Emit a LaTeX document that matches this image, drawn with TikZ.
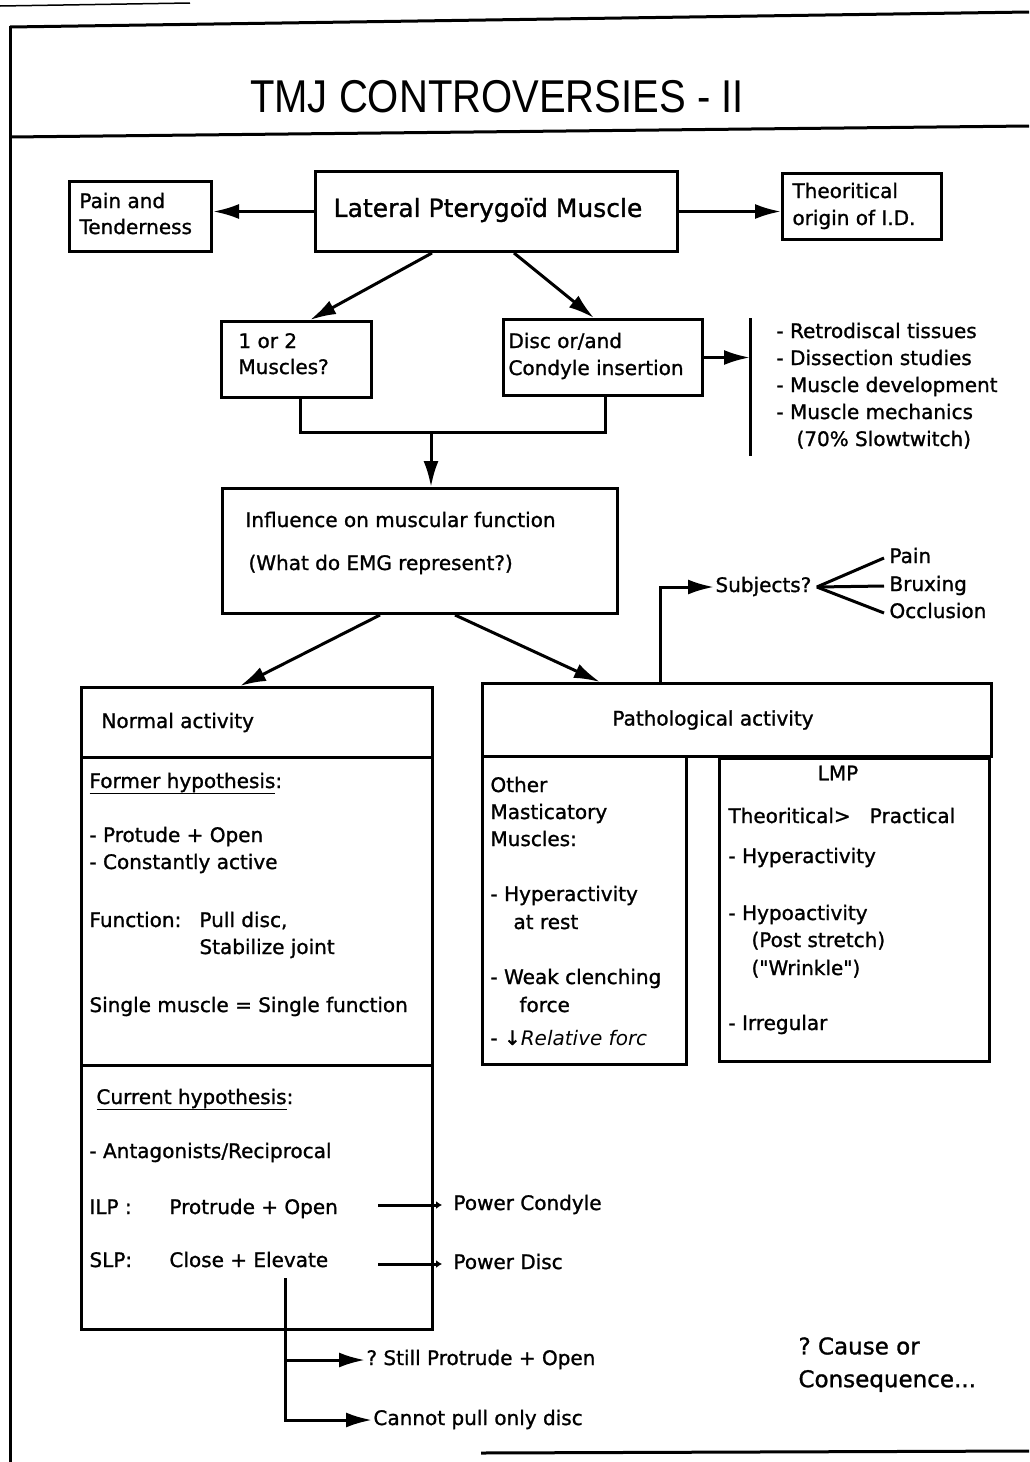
\documentclass[tikz,border=0pt]{standalone}
\usepackage{fontspec}
\setmainfont{DejaVu Sans}[BoldFont={DejaVu Sans},BoldFeatures={FakeBold=1.2}]
\newfontfamily\titlefont{Liberation Sans}
\usetikzlibrary{arrows.meta,calc}
\begin{document}
\frenchspacing
\begin{tikzpicture}[x=1pt,y=-1pt,line width=3pt,
  box/.style={draw,line width=3pt,inner sep=0pt,anchor=north west},
  txt/.style={anchor=west,inner sep=0pt,text height=14pt,text depth=4pt,font=\fontsize{20}{24}\selectfont\bfseries},
  ctxt/.style={inner sep=0pt,font=\fontsize{20}{24}\selectfont\bfseries},
  btxt/.style={anchor=west,inner sep=0pt,font=\fontsize{23}{27}\selectfont\bfseries},
  arr/.style={-{Latex[length=26pt,width=15pt]}},
  tick/.style={-{Latex[length=6pt,width=8pt]}},
  rule/.style={line width=3pt}]
\useasboundingbox (0,0) rectangle (1029,1462);
% frame
\draw[rule] (10,27) -- (1029,12);
\draw[rule] (10,137) -- (1029,126);
\draw[rule] (10,26) -- (10,1462);
\draw[line width=1.5pt] (0,6) -- (190,3);
\draw[rule] (481,1453) -- (1029,1451);
\node[inner sep=0pt,font=\titlefont\fontsize{46}{50}\selectfont] (title) at (497,97) {\scalebox{0.87}[1]{TMJ CONTROVERSIES - II}};
% top boxes
\node[box,minimum width=142pt,minimum height=70pt] (pain) at (68,180) {};
\node[txt] (painA) at (78,203) {Pain and};
\node[txt] (painB) at (78,229) {Tenderness};
\node[box,minimum width=362pt,minimum height=80pt] (lat) at (314,170) {};
\node[inner sep=0pt,font=\fontsize{25}{30}\selectfont\bfseries] (latT) at (488,210) {Lateral Pterygoïd Muscle};
\node[box,minimum width=159pt,minimum height=66pt] (theo) at (781,172) {};
\node[txt] (theoA) at (791,193) {Theoritical};
\node[txt] (theoB) at (791,220) {origin of I.D.};
\draw[arr] (lat.west) -- (lat.west -| pain.east);
\draw[arr] (lat.east) -- (lat.east -| theo.west);
% second row
\node[box,minimum width=150pt,minimum height=76pt] (one) at (220,320) {};
\node[txt] (oneA) at (237,343) {1 or 2};
\node[txt] (oneB) at (237,369) {Muscles?};
\node[box,minimum width=199pt,minimum height=76pt] (disc) at (502,318) {};
\node[txt] (discA) at (507,343) {Disc or/and};
\node[txt] (discB) at (507,370) {Condyle insertion};
\draw[arr] ($(lat.south west)+(118,0)$) -- ($(one.north west)+(90,0)$);
\draw[arr] ($(lat.south west)+(200,0)$) -- ($(disc.north west)+(92,0)$);
% bracket list
\coordinate (br) at (750,356);
\draw[rule] (750,318) -- (750,456);
\draw[arr] (disc.east) -- (disc.east -| br);
\node[txt] (l1) at (775,333) {- Retrodiscal tissues};
\node[txt] (l2) at (775,360) {- Dissection studies};
\node[txt] (l3) at (775,387) {- Muscle development};
\node[txt] (l4) at (775,414) {- Muscle mechanics};
\node[txt] (l5) at (795,441) {(70\% Slowtwitch)};
% merge
\coordinate (mg) at (431,432);
\draw ($(one.south west)+(80,0)$) |- (mg) -| ($(disc.south west)+(103,0)$);
\node[box,minimum width=395pt,minimum height=125pt] (infl) at (221,487) {};
\draw[arr] (mg) -- (mg |- infl.north);
\node[txt] (inflA) at (244,522) {Influence on muscular function};
\node[txt] (inflB) at (247,565) {(What do EMG represent?)};
% normal activity
\node[box,minimum width=351pt,minimum height=642pt] (normal) at (80,686) {};
\draw ($(normal.north west)+(0,71)$) -- ($(normal.north east)+(0,71)$);
\draw ($(normal.north west)+(0,379)$) -- ($(normal.north east)+(0,379)$);
\draw[arr] ($(infl.south west)+(159,0)$) -- ($(normal.north west)+(160,0)$);
\node[txt] (nA) at (100,723) {Normal activity};
\node[txt] (nB) at (88,783) {\underline{Former hypothesis}:};
\node[txt] (nC) at (88,837) {- Protude + Open};
\node[txt] (nD) at (88,864) {- Constantly active};
\node[txt] (nE) at (88,922) {Function:};
\node[txt] (nF) at (198,922) {Pull disc,};
\node[txt] (nG) at (198,949) {Stabilize joint};
\node[txt] (nH) at (88,1007) {Single muscle = Single function};
\node[txt] (nI) at (95,1099) {\underline{Current hypothesis}:};
\node[txt] (nJ) at (88,1153) {- Antagonists/Reciprocal};
\node[txt] (ilp) at (88,1209) {ILP :};
\node[txt] (ilpA) at (168,1209) {Protrude + Open};
\node[txt] (slp) at (88,1262) {SLP:};
\node[txt] (slpA) at (168,1262) {Close + Elevate};
\node[txt] (pcond) at (452,1205) {Power Condyle};
\node[txt] (pdisc) at (452,1264) {Power Disc};
\draw[tick] (378,1205) -- ([xshift=-10pt]pcond.west);
\draw[tick] (378,1264) -- ([xshift=-10pt]pdisc.west);
\coordinate (el) at (285,1278);
\node[txt] (still) at (365,1360) {? Still Protrude + Open};
\node[txt] (cannot) at (372,1420) {Cannot pull only disc};
\draw[arr] (el) |- (still.west);
\draw[arr] (el) |- (cannot.west);
\node[btxt] (cA) at (797,1346) {? Cause or};
\node[btxt] (cB) at (797,1381) {Consequence...};
% pathological
\node[box,minimum width=509pt,minimum height=73pt] (path) at (481,682) {};
\node[ctxt] (pathT) at (713,720) {Pathological activity};
\draw[arr] ($(infl.south west)+(234,0)$) -- ($(path.north west)+(119,0)$);
\node[txt] (subj) at (714,587) {Subjects?};
\draw[arr] ($(path.north west)+(179,0)$) |- (subj.west);
\node[txt] (sp) at (888,558) {Pain};
\node[txt] (sb) at (888,586) {Bruxing};
\node[txt] (so) at (888,613) {Occlusion};
\draw ([xshift=4pt]subj.east) -- ([xshift=-4pt]sp.west);
\draw ([xshift=4pt]subj.east) -- ([xshift=-4pt]sb.west);
\draw ([xshift=4pt]subj.east) -- ([xshift=-4pt]so.west);
\node[box,minimum width=204pt,minimum height=308pt] (other) at (481,755) {};
\node[txt] (oA) at (489,787) {Other};
\node[txt] (oB) at (489,814) {Masticatory};
\node[txt] (oC) at (489,841) {Muscles:};
\node[txt] (oD) at (489,896) {- Hyperactivity};
\node[txt] (oE) at (512,924) {at rest};
\node[txt] (oF) at (489,979) {- Weak clenching};
\node[txt] (oG) at (518,1007) {force};
\node[txt] (oH) at (489,1040) {- ↓\itshape Relative forc};
\node[box,minimum width=270pt,minimum height=303pt] (lmp) at (718,757) {};
\node[ctxt] (lmpT) at (838,773) {LMP};
\node[txt] (mA) at (727,818) {Theoritical>\ \ \ Practical};
\node[txt] (mB) at (727,858) {- Hyperactivity};
\node[txt] (mC) at (727,915) {- Hypoactivity};
\node[txt] (mD) at (750,942) {(Post stretch)};
\node[txt] (mE) at (750,970) {\addfontfeatures{Ligatures=TeXOff}("Wrinkle")};
\node[txt] (mF) at (727,1025) {- Irregular};
\end{tikzpicture}
\end{document}
